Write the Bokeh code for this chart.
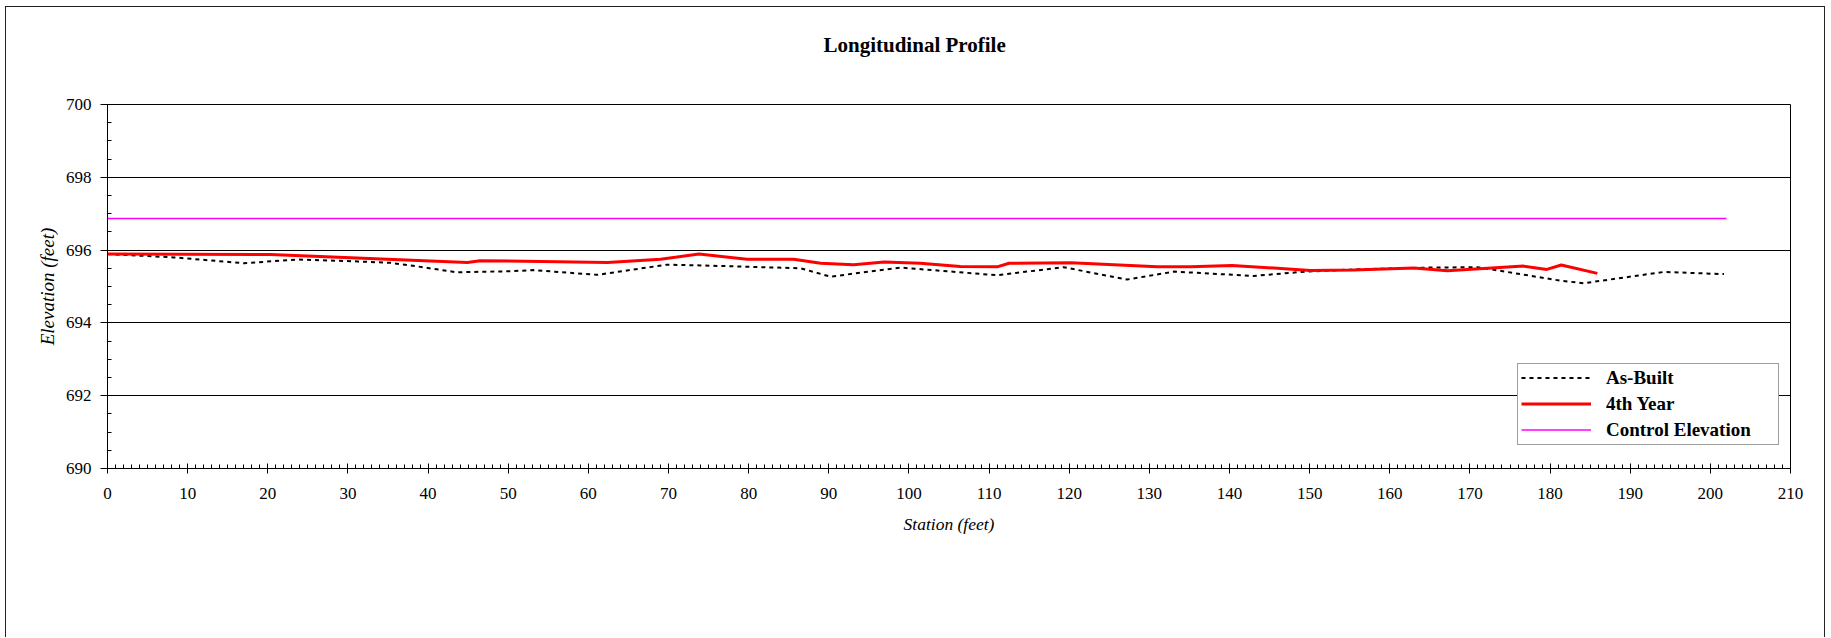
from bokeh.plotting import figure
from bokeh.models import SingleIntervalTicker, Range1d, Legend, LegendItem
from bokeh.embed import file_html
from bokeh.resources import INLINE

# ---- data ----
as_built_station = [0, 8.3, 17.0, 23.7, 31.2, 35.3, 37.8, 43.6, 50.3, 53.2, 61.1, 69.8, 74.0,
                    86.5, 90.2, 98.9, 111.0, 119.3, 127.2, 133.1, 143.0, 148.9, 155.5, 165.0,
                    171.0, 181.3, 184.2, 194.2, 201.7]
as_built_elev = [695.89, 695.80, 695.64, 695.74, 695.69, 695.65, 695.58, 695.39, 695.42, 695.45,
                 695.32, 695.60, 695.58, 695.50, 695.27, 695.52, 695.31, 695.53, 695.19, 695.41,
                 695.29, 695.40, 695.47, 695.52, 695.53, 695.16, 695.09, 695.40, 695.34]

year4_station = [0, 20.3, 44.9, 46.5, 62.4, 69.0, 73.8, 79.8, 85.6, 89.0, 93.1, 96.9, 101.4,
                 106.4, 111.0, 112.5, 120.2, 131.0, 135.1, 140.3, 150.1, 155.5, 163.0, 167.2,
                 176.7, 179.6, 181.4, 185.9]
year4_elev = [695.89, 695.88, 695.66, 695.71, 695.66, 695.75, 695.89, 695.75, 695.75, 695.64,
              695.60, 695.67, 695.64, 695.55, 695.54, 695.64, 695.65, 695.54, 695.54, 695.58,
              695.44, 695.45, 695.51, 695.43, 695.56, 695.47, 695.59, 695.36]

control_station = [0, 202]
control_elev = [696.87, 696.87]

FONT = "Liberation Serif"

p = figure(width=1820, height=631, x_range=Range1d(0, 210), y_range=Range1d(690, 700),
           output_backend="svg", toolbar_location=None,
           min_border_left=101, min_border_right=36, min_border_top=97, min_border_bottom=170)
p.styles = {"margin-left": "5px", "margin-top": "6px",
            "border-top": "1px solid #222", "border-left": "1px solid #222",
            "border-right": "1px solid #222"}

p.background_fill_color = "white"
p.border_fill_color = "white"
p.outline_line_color = "black"
p.outline_line_width = 1
p.outline_line_alpha = 1

# title
p.title.text = "Longitudinal Profile"
p.title.align = "left"
p.title.text_font = FONT
p.title.text_font_style = "bold"
p.title.text_font_size = "21px"
p.title.text_color = "black"
p.title.offset = 716
p.title.standoff = 0
p.title.padding = dict(top=0, right=0, bottom=48, left=0)

# axes
p.xaxis.ticker = SingleIntervalTicker(interval=10, num_minor_ticks=10)
p.yaxis.ticker = SingleIntervalTicker(interval=2, num_minor_ticks=4)
for ax in (p.xaxis[0], p.yaxis[0]):
    ax.axis_line_color = "black"
    ax.axis_line_width = 1
    ax.major_tick_line_color = "black"
    ax.minor_tick_line_color = "black"
    ax.major_label_text_font = FONT
    ax.major_label_text_font_size = "17px"
    ax.major_label_text_color = "black"
    ax.axis_label_text_font = FONT
    ax.axis_label_text_font_style = "italic"
    ax.axis_label_text_color = "black"

p.xaxis.major_tick_in = 5
p.xaxis.major_tick_out = 5
p.xaxis.minor_tick_in = 4
p.xaxis.minor_tick_out = 0
p.xaxis.major_label_standoff = 14
p.xaxis.axis_label = "Station (feet)"
p.xaxis.axis_label_text_font_size = "17.5px"
p.xaxis.axis_label_standoff = 12

p.yaxis.major_tick_in = 0
p.yaxis.major_tick_out = 7
p.yaxis.minor_tick_in = 4
p.yaxis.minor_tick_out = 0
p.yaxis.major_label_standoff = 9
p.yaxis.axis_label = "Elevation (feet)"
p.yaxis.axis_label_text_font_size = "19px"
p.yaxis.axis_label_standoff = 5

p.xgrid.visible = False
p.ygrid.grid_line_color = "black"
p.ygrid.grid_line_width = 1
p.ygrid.grid_line_alpha = 1

# series
r_ab = p.line(as_built_station, as_built_elev, line_color="black", line_width=2, line_dash="4 4")
r_4 = p.line(year4_station, year4_elev, line_color="#FF0000", line_width=3)
r_c = p.line(control_station, control_elev, line_color="#FF00FF", line_width=1.5)

legend = Legend(items=[LegendItem(label="As-Built", renderers=[r_ab]),
                       LegendItem(label="4th Year", renderers=[r_4]),
                       LegendItem(label="Control Elevation", renderers=[r_c])],
                location=(1410, 23.5))
legend.border_line_color = "#404040"
legend.border_line_width = 1
legend.background_fill_color = "white"
legend.background_fill_alpha = 1
legend.label_text_font = FONT
legend.label_text_font_style = "bold"
legend.label_text_font_size = "19px"
legend.label_text_color = "black"
legend.glyph_width = 70
legend.glyph_height = 21
legend.label_height = 21
legend.label_standoff = 15
legend.label_width = 169
legend.padding = 3
legend.spacing = 4
legend.margin = 0
p.add_layout(legend)

open("out.html", "w").write(file_html(p, INLINE))
